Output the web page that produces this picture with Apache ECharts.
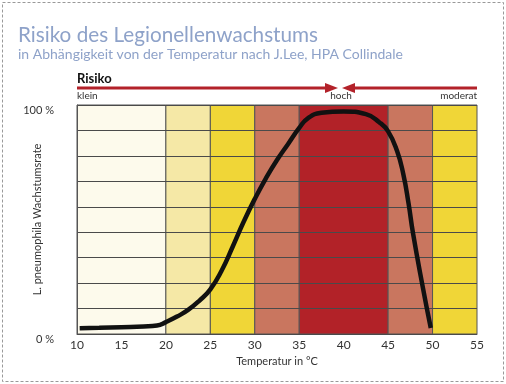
<!DOCTYPE html>
<html><head><meta charset="utf-8">
<script src="https://cdn.jsdelivr.net/npm/echarts@6/dist/echarts.min.js"></script>
<style>html,body{margin:0;padding:0;background:#fff}#c{width:506px;height:384px}</style>
</head><body><div id="c"></div>
<script>
// Temperature (°C) and growth rate (%)
const temps = [10.3, 12.5, 15, 17.5, 19, 20, 21.25, 22.5, 23.75, 25, 26.25, 27.5, 28.75, 30, 31.25, 32.5, 33.75, 35, 36, 37.5, 40, 42.5, 44, 45, 46, 46.7, 47.3, 47.8, 48.9, 49.8];
const rates = [2.5, 2.7, 3.0, 3.3, 3.7, 5.2, 7.6, 10.5, 14.5, 19.5, 27.5, 38, 49, 59, 68, 76, 83, 90, 94.3, 96.6, 97.2, 96, 92.5, 88.5, 80, 70, 57, 44, 20.5, 2.6];
// Risk zones
const zoneFrom = [10, 20, 25, 30, 35, 45, 50];
const zoneTo   = [20, 25, 30, 35, 45, 50, 55];
const zoneColors = ['#fdfaec', '#f5e8a6', '#f0d637', '#c9765f', '#b22228', '#c9765f', '#f0d637'];
const xTicks = [10, 15, 20, 25, 30, 35, 40, 45, 50, 55];

const font = 'Lato';
const chart = echarts.init(document.getElementById('c'));
chart.setOption({
  backgroundColor: '#fff',
  textStyle: { fontFamily: font },
  animation: false,
  grid: { left: 77, right: 29, top: 105, bottom: 50, containLabel: false, outerBoundsMode: 'none' },
  xAxis: {
    type: 'value', min: 10, max: 55, interval: 5,
    name: 'Temperatur in °C', nameLocation: 'middle', nameGap: 22, nameMoveOverlap: false,
    nameTextStyle: { fontSize: 11, color: '#333', fontFamily: font },
    axisLine: { show: true, lineStyle: { color: '#555', width: 1 } },
    axisTick: { show: false },
    splitLine: { show: false },
    axisLabel: { fontSize: 12, color: '#333', margin: 5, fontFamily: font,
      formatter: v => xTicks.includes(v) ? String(v) : '' }
  },
  yAxis: {
    type: 'value', min: 0, max: 100, interval: 100 / 9, z: 3,
    name: 'L. pneumophila Wachstumsrate', nameLocation: 'middle', nameGap: 34, nameMoveOverlap: false,
    nameTextStyle: { fontSize: 11, color: '#333', fontFamily: font },
    axisLine: { show: true, lineStyle: { color: '#555', width: 1 } },
    axisTick: { show: false },
    splitLine: { show: true, lineStyle: { color: '#4a4a4a', width: 1 } },
    axisLabel: { fontSize: 11, color: '#333', margin: 23, verticalAlign: 'top', fontFamily: font,
      formatter: v => v > 99.9 ? '100 %' : (v === 0 ? '0 %' : '') }
  },
  graphic: [
    { type: 'rect', shape: { x: 2.5, y: 2.5, width: 501, height: 379 },
      style: { fill: 'none', stroke: '#999', lineWidth: 1, lineDash: [3, 2] } },
    { type: 'text', left: 18, top: 25, style: { text: 'Risiko des Legionellenwachstums', font: '20.7px Lato', fill: '#8ea2c9' } },
    { type: 'text', left: 18, top: 47, style: { text: 'in Abhängigkeit von der Temperatur nach J.Lee, HPA Collindale', font: '14px Lato', fill: '#8ea2c9' } },
    { type: 'text', left: 77, top: 72, style: { text: 'Risiko', font: 'bold 13px Lato', fill: '#111' } },
    { type: 'line', shape: { x1: 77, y1: 88, x2: 328, y2: 88 }, style: { stroke: '#b3222a', lineWidth: 3 } },
    { type: 'polygon', shape: { points: [[325, 83], [338, 88], [325, 93]] }, style: { fill: '#b3222a' } },
    { type: 'line', shape: { x1: 352, y1: 88, x2: 477, y2: 88 }, style: { stroke: '#b3222a', lineWidth: 3 } },
    { type: 'polygon', shape: { points: [[355, 83], [342, 88], [355, 93]] }, style: { fill: '#b3222a' } },
    { type: 'text', left: 77, top: 91, style: { text: 'klein', font: '10px Lato', fill: '#333' } },
    { type: 'text', x: 341, y: 91, style: { text: 'hoch', font: '10px Lato', fill: '#333', textAlign: 'center' } },
    { type: 'text', x: 477, y: 91, style: { text: 'moderat', font: '10px Lato', fill: '#333', textAlign: 'right' } }
  ],
  series: [{
    type: 'line', z: 5,
    data: temps.map((t, i) => [t, rates[i]]),
    smooth: 0.5, showSymbol: false,
    lineStyle: { color: '#111', width: 4.5 },
    markArea: {
      silent: true,
      data: zoneFrom.map((f, i) => [
        { xAxis: f, yAxis: 0, itemStyle: { color: zoneColors[i], borderColor: '#555', borderWidth: 1 } },
        { xAxis: zoneTo[i], yAxis: 100 }
      ])
    }
  }]
});
</script></body></html>
